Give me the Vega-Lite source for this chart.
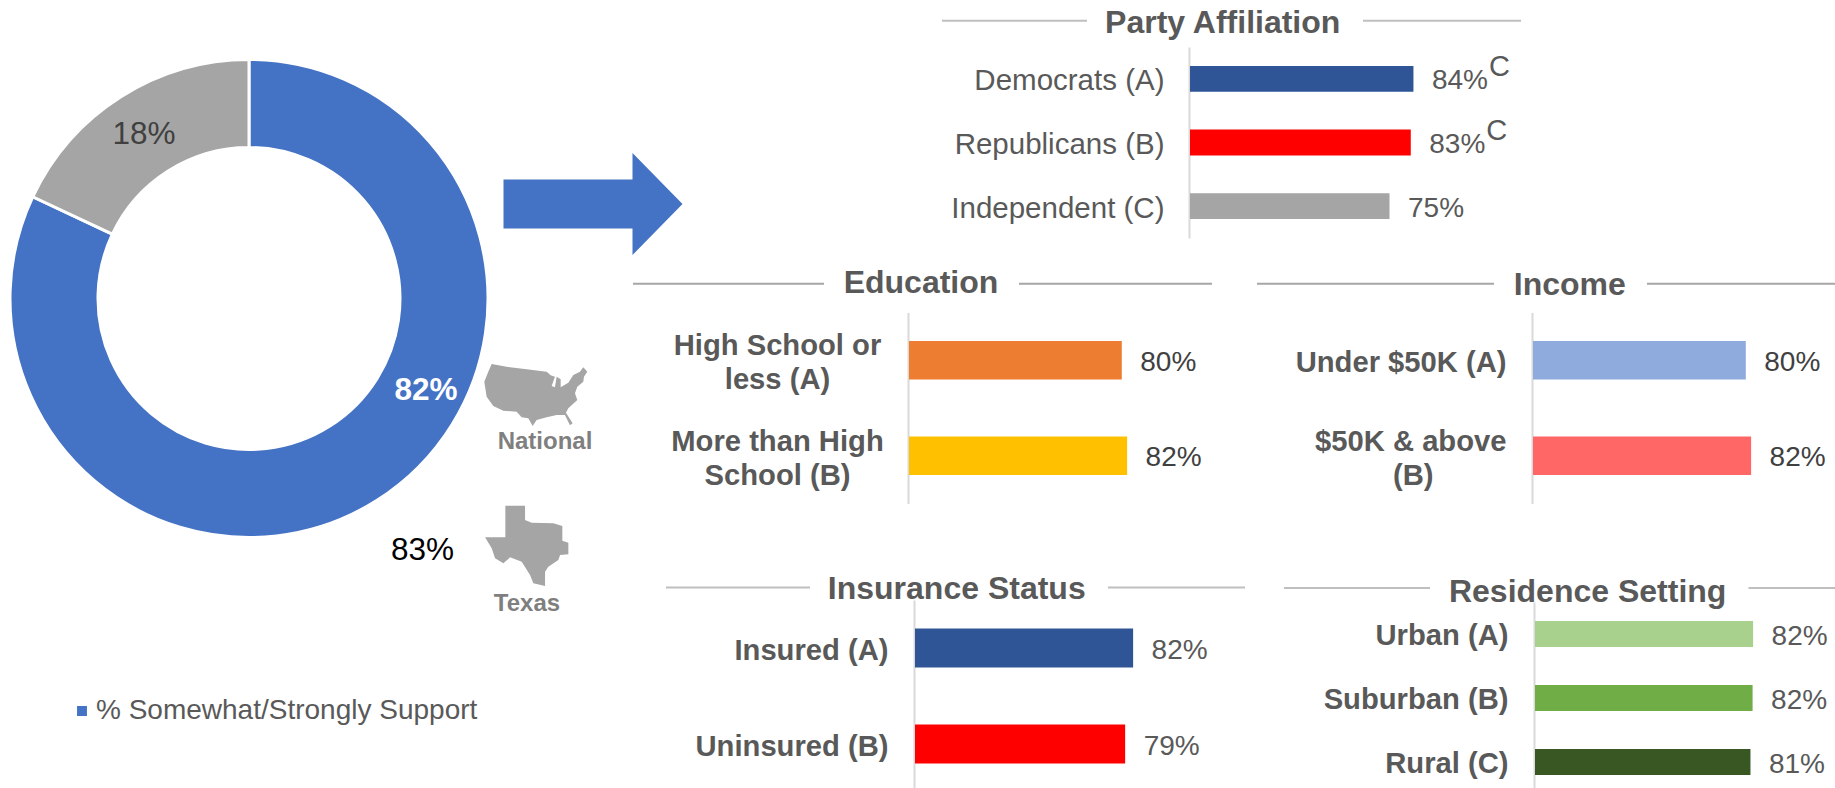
{"$schema":"https://vega.github.io/schema/vega-lite/v6.json","autosize":"none","padding":0,"width":1835,"height":788,"background":"white","config":{"view":{"stroke":null},"font":"Liberation Sans","text":{"font":"Liberation Sans"},"axis":{"grid":false,"ticks":false,"title":null}},
"datasets":{
"party":[{"label":"Democrats (A)","value":0.84,"sig":"C"},{"label":"Republicans (B)","value":0.83,"sig":"C"},{"label":"Independent (C)","value":0.75,"sig":""}],
"education":[{"label":"High School or less (A)","value":0.80},{"label":"More than High School (B)","value":0.82}],
"income":[{"label":"Under $50K (A)","value":0.80},{"label":"$50K & above (B)","value":0.82}],
"insurance":[{"label":"Insured (A)","value":0.82},{"label":"Uninsured (B)","value":0.79}],
"residence":[{"label":"Urban (A)","value":0.82},{"label":"Suburban (B)","value":0.818},{"label":"Rural (C)","value":0.81}],
"support":[{"group":"% Somewhat/Strongly Support","share":0.82,"rank":1},{"group":"Other","share":0.18,"rank":2}]},
"resolve":{"scale":{"x":"independent","y":"independent","color":"independent","theta":"independent"},"axis":{"x":"independent","y":"independent"},"legend":{"color":"independent"}},
"layer":[
{"layer":[
{"data":{"name":"support"},"mark":{"type":"arc","outerRadius":239,"innerRadius":151,"stroke":"white","strokeWidth":3},"encoding":{"x":{"datum":249,"type":"quantitative","scale":{"domain":[0,1835],"range":[0,1835],"nice":false},"axis":null},"y":{"datum":298.5,"type":"quantitative","scale":{"domain":[0,788],"range":[0,788],"nice":false},"axis":null},"theta":{"field":"share","type":"quantitative","stack":true},"order":{"field":"rank"},"color":{"field":"group","type":"nominal","scale":{"domain":["% Somewhat/Strongly Support","Other"],"range":["#4472c4","#a5a5a5"]},"legend":{"values":["% Somewhat/Strongly Support"],"title":null,"orient":"none","legendX":68,"legendY":697,"symbolType":"square","symbolSize":130,"labelOffset":0,"labelFont":"Liberation Sans","labelFontSize":28,"labelColor":"#595959","labelLimit":600}}}},
{"data":{"values":[{"t":"82%"}]},"mark":{"type":"text","fontSize":31.5,"fontWeight":"bold","color":"white"},"encoding":{"x":{"datum":426,"type":"quantitative"},"y":{"datum":391,"type":"quantitative"},"text":{"field":"t"}}},
{"data":{"values":[{"t":"18%"}]},"mark":{"type":"text","fontSize":31.5,"color":"#404040"},"encoding":{"x":{"datum":144,"type":"quantitative"},"y":{"datum":135,"type":"quantitative"},"text":{"field":"t"}}},
{"data":{"values":[{"t":"83%"}]},"mark":{"type":"text","fontSize":31.5,"color":"#000000"},"encoding":{"x":{"datum":422.5,"type":"quantitative"},"y":{"datum":551,"type":"quantitative"},"text":{"field":"t"}}},
{"data":{"values":[{"t":"National"}]},"mark":{"type":"text","fontSize":24,"fontWeight":"bold","color":"#7f7f7f"},"encoding":{"x":{"datum":545,"type":"quantitative"},"y":{"datum":442,"type":"quantitative"},"text":{"field":"t"}}},
{"data":{"values":[{"t":"Texas"}]},"mark":{"type":"text","fontSize":24,"fontWeight":"bold","color":"#7f7f7f"},"encoding":{"x":{"datum":527,"type":"quantitative"},"y":{"datum":604,"type":"quantitative"},"text":{"field":"t"}}},
{"data":{"values":[{"name":"arrow"}]},"mark":{"type":"point","filled":true,"opacity":1,"size":10000,"color":"#4472c4","shape":"M-1.79 -.49L.79 -.49L.79 -1.02L1.79 0L.79 1.02L.79 .49L-1.79 .49Z"},"encoding":{"x":{"datum":593,"type":"quantitative"},"y":{"datum":204,"type":"quantitative"}}},
{"data":{"values":[{"name":"national map"}]},"mark":{"type":"point","filled":true,"opacity":1,"size":10000,"color":"#a5a5a5","shape":"M-.883 -.613L-.583 -.56L-.183 -.507L.217 -.46L.297 -.387L.383 -.36L.317 -.173L.383 -.147L.417 -.36L.497 -.307L.497 -.147L.65 -.24L.75 -.393L.883 -.46L.95 -.547L1.03 -.46L.963 -.36L.95 -.26L.83 -.16L.783 -.027L.83 .107L.65 .273L.603 .36L.737 .573L.683 .613L.583 .407L.417 .407L.217 .453L.017 .507L-.063 .627L-.15 .473L-.283 .453L-.383 .34L-.65 .32L-.85 .227L-.983 .04L-1.03 -.26L-.95 -.46Z"},"encoding":{"x":{"datum":535.8,"type":"quantitative"},"y":{"datum":394.7,"type":"quantitative"}}},
{"data":{"values":[{"name":"texas map"}]},"mark":{"type":"point","filled":true,"opacity":1,"size":10000,"color":"#a5a5a5","shape":"M-.427 -.8L-.033 -.8L-.033 -.513L.1 -.46L.533 -.447L.713 -.393L.713 -.1L.833 -.06L.833 .173L.667 .187L.633 .287L.433 .42L.367 .52L.367 .807L.133 .753L.067 .587L-.1 .32L-.333 .233L-.467 .353L-.633 .253L-.7 .053L-.833 -.167L-.427 -.167Z"},"encoding":{"x":{"datum":526.7,"type":"quantitative"},"y":{"datum":545.7,"type":"quantitative"}}}
]},
{"layer":[
{"data":{"name":"party"},"mark":{"type":"bar","height":{"band":0.405}},"encoding":{"x":{"field":"value","type":"quantitative","scale":{"domain":[0,1],"range":[1190,1456],"nice":false},"axis":null},"y":{"field":"label","type":"nominal","sort":null,"scale":{"domain":["Democrats (A)","Republicans (B)","Independent (C)"],"range":[47,238],"padding":0},"axis":{"orient":"left","offset":-1189,"domainColor":"#d9d9d9","domainWidth":2,"labelColor":"#595959","labelFontSize":29.5,"labelPadding":25,"labelLimit":500,"labelFont":"Liberation Sans","labelOffset":2.5}},"color":{"field":"label","type":"nominal","scale":{"domain":["Democrats (A)","Republicans (B)","Independent (C)"],"range":["#2f5597","#ff0000","#a5a5a5"]},"legend":null}}},
{"data":{"name":"party"},"mark":{"type":"text","align":"left","dx":18.5,"dy":2.5,"fontSize":28,"color":"#595959"},"encoding":{"x":{"field":"value","type":"quantitative"},"y":{"field":"label","type":"nominal","sort":null},"text":{"field":"value","format":".0%"}}},
{"data":{"name":"party"},"mark":{"type":"text","align":"left","dx":75.5,"dy":-12,"fontSize":29,"color":"#595959"},"encoding":{"x":{"field":"value","type":"quantitative"},"y":{"field":"label","type":"nominal","sort":null},"text":{"field":"sig"}}},
{"data":{"values":[{"side":"left"}]},"mark":{"type":"rule","color":"#bfbfbf","strokeWidth":2,"yOffset":-58},"encoding":{"x":{"datum":-0.9323,"type":"quantitative"},"x2":{"datum":-0.3872},"y":{"datum":"Democrats (A)","type":"nominal"}}},
{"data":{"values":[{"side":"right"}]},"mark":{"type":"rule","color":"#bfbfbf","strokeWidth":2,"yOffset":-58},"encoding":{"x":{"datum":0.6504,"type":"quantitative"},"x2":{"datum":1.2444},"y":{"datum":"Democrats (A)","type":"nominal"}}},
{"data":{"values":[{"heading":"Party Affiliation"}]},"mark":{"type":"text","fontSize":32,"fontWeight":"bold","color":"#595959","dy":-55.5},"encoding":{"x":{"datum":0.123,"type":"quantitative"},"y":{"datum":"Democrats (A)","type":"nominal"},"text":{"field":"heading"}}}
]},
{"layer":[
{"data":{"name":"education"},"mark":{"type":"bar","height":{"band":0.405}},"encoding":{"x":{"field":"value","type":"quantitative","scale":{"domain":[0,1],"range":[909,1175],"nice":false},"axis":null},"y":{"field":"label","type":"nominal","sort":null,"scale":{"domain":["High School or less (A)","More than High School (B)"],"range":[312.5,503.5],"padding":0},"axis":{"orient":"left","offset":-908,"domainColor":"#d9d9d9","domainWidth":2,"labelColor":"#595959","labelFontSize":29.2,"labelFontWeight":"bold","labelAlign":"center","labelPadding":131,"labelLimit":500,"labelFont":"Liberation Sans","labelLineHeight":34,"labelOffset":-14,"labelExpr":"datum.label=='High School or less (A)'?['High School or','less (A)']:['More than High','School (B)']"}},"color":{"field":"label","type":"nominal","scale":{"domain":["High School or less (A)","More than High School (B)"],"range":["#ed7d31","#ffc000"]},"legend":null}}},
{"data":{"name":"education"},"mark":{"type":"text","align":"left","dx":18.5,"dy":2.5,"fontSize":28,"color":"#404040"},"encoding":{"x":{"field":"value","type":"quantitative"},"y":{"field":"label","type":"nominal","sort":null},"text":{"field":"value","format":".0%"}}},
{"data":{"values":[{"side":"left"}]},"mark":{"type":"rule","color":"#a6a6a6","strokeWidth":2,"yOffset":-76.5},"encoding":{"x":{"datum":-1.0376,"type":"quantitative"},"x2":{"datum":-0.3195},"y":{"datum":"High School or less (A)","type":"nominal"}}},
{"data":{"values":[{"side":"right"}]},"mark":{"type":"rule","color":"#a6a6a6","strokeWidth":2,"yOffset":-76.5},"encoding":{"x":{"datum":0.4135,"type":"quantitative"},"x2":{"datum":1.139},"y":{"datum":"High School or less (A)","type":"nominal"}}},
{"data":{"values":[{"heading":"Education"}]},"mark":{"type":"text","fontSize":32,"fontWeight":"bold","color":"#595959","dy":-77.5},"encoding":{"x":{"datum":0.045,"type":"quantitative"},"y":{"datum":"High School or less (A)","type":"nominal"},"text":{"field":"heading"}}}
]},
{"layer":[
{"data":{"name":"income"},"mark":{"type":"bar","height":{"band":0.405}},"encoding":{"x":{"field":"value","type":"quantitative","scale":{"domain":[0,1],"range":[1533,1799],"nice":false},"axis":null},"y":{"field":"label","type":"nominal","sort":null,"scale":{"domain":["Under $50K (A)","$50K & above (B)"],"range":[312.5,503.5],"padding":0},"axis":{"orient":"left","offset":-1532,"domainColor":"#d9d9d9","domainWidth":2,"labelColor":"#595959","labelFontSize":29.2,"labelFontWeight":"bold","labelPadding":26,"labelLimit":500,"labelFont":"Liberation Sans","labelLineHeight":34,"labelOffset":{"expr":"datum.value=='$50K & above (B)'?-14:2.5"},"labelExpr":"datum.label=='$50K & above (B)'?['$50K & above','(B)\u00a0\u00a0\u00a0\u00a0\u00a0\u00a0\u00a0\u00a0\u00a0\u200b']:datum.label"}},"color":{"field":"label","type":"nominal","scale":{"domain":["Under $50K (A)","$50K & above (B)"],"range":["#8faadc","#ff6666"]},"legend":null}}},
{"data":{"name":"income"},"mark":{"type":"text","align":"left","dx":18.5,"dy":2.5,"fontSize":28,"color":"#404040"},"encoding":{"x":{"field":"value","type":"quantitative"},"y":{"field":"label","type":"nominal","sort":null},"text":{"field":"value","format":".0%"}}},
{"data":{"values":[{"side":"left"}]},"mark":{"type":"rule","color":"#a6a6a6","strokeWidth":2,"yOffset":-76.5},"encoding":{"x":{"datum":-1.0376,"type":"quantitative"},"x2":{"datum":-0.1466},"y":{"datum":"Under $50K (A)","type":"nominal"}}},
{"data":{"values":[{"side":"right"}]},"mark":{"type":"rule","color":"#a6a6a6","strokeWidth":2,"yOffset":-76.5},"encoding":{"x":{"datum":0.4286,"type":"quantitative"},"x2":{"datum":1.1353},"y":{"datum":"Under $50K (A)","type":"nominal"}}},
{"data":{"values":[{"heading":"Income"}]},"mark":{"type":"text","fontSize":32,"fontWeight":"bold","color":"#595959","dy":-75.5},"encoding":{"x":{"datum":0.1385,"type":"quantitative"},"y":{"datum":"Under $50K (A)","type":"nominal"},"text":{"field":"heading"}}}
]},
{"layer":[
{"data":{"name":"insurance"},"mark":{"type":"bar","height":{"band":0.405}},"encoding":{"x":{"field":"value","type":"quantitative","scale":{"domain":[0,1],"range":[915,1181],"nice":false},"axis":null},"y":{"field":"label","type":"nominal","sort":null,"scale":{"domain":["Insured (A)","Uninsured (B)"],"range":[600,792],"padding":0},"axis":{"orient":"left","offset":-914,"domainColor":"#d9d9d9","domainWidth":2,"labelColor":"#595959","labelFontSize":29.2,"labelFontWeight":"bold","labelPadding":26,"labelLimit":500,"labelFont":"Liberation Sans","labelOffset":2.5}},"color":{"field":"label","type":"nominal","scale":{"domain":["Insured (A)","Uninsured (B)"],"range":["#2f5597","#ff0000"]},"legend":null}}},
{"data":{"name":"insurance"},"mark":{"type":"text","align":"left","dx":18.5,"dy":2.5,"fontSize":28,"color":"#595959"},"encoding":{"x":{"field":"value","type":"quantitative"},"y":{"field":"label","type":"nominal","sort":null},"text":{"field":"value","format":".0%"}}},
{"data":{"values":[{"side":"left"}]},"mark":{"type":"rule","color":"#bfbfbf","strokeWidth":2,"yOffset":-60.5},"encoding":{"x":{"datum":-0.9361,"type":"quantitative"},"x2":{"datum":-0.3947},"y":{"datum":"Insured (A)","type":"nominal"}}},
{"data":{"values":[{"side":"right"}]},"mark":{"type":"rule","color":"#bfbfbf","strokeWidth":2,"yOffset":-60.5},"encoding":{"x":{"datum":0.7256,"type":"quantitative"},"x2":{"datum":1.2406},"y":{"datum":"Insured (A)","type":"nominal"}}},
{"data":{"values":[{"heading":"Insurance Status"}]},"mark":{"type":"text","fontSize":32,"fontWeight":"bold","color":"#595959","dy":-59},"encoding":{"x":{"datum":0.157,"type":"quantitative"},"y":{"datum":"Insured (A)","type":"nominal"},"text":{"field":"heading"}}}
]},
{"layer":[
{"data":{"name":"residence"},"mark":{"type":"bar","height":{"band":0.405}},"encoding":{"x":{"field":"value","type":"quantitative","scale":{"domain":[0,1],"range":[1535,1801],"nice":false},"axis":null},"y":{"field":"label","type":"nominal","sort":null,"scale":{"domain":["Urban (A)","Suburban (B)","Rural (C)"],"range":[602,794],"padding":0},"axis":{"orient":"left","offset":-1534,"domainColor":"#d9d9d9","domainWidth":2,"labelColor":"#595959","labelFontSize":29.2,"labelFontWeight":"bold","labelPadding":26,"labelLimit":500,"labelFont":"Liberation Sans","labelOffset":2}},"color":{"field":"label","type":"nominal","scale":{"domain":["Urban (A)","Suburban (B)","Rural (C)"],"range":["#a9d18e","#70ad47","#385723"]},"legend":null}}},
{"data":{"name":"residence"},"mark":{"type":"text","align":"left","dx":18.5,"dy":2.5,"fontSize":28,"color":"#595959"},"encoding":{"x":{"field":"value","type":"quantitative"},"y":{"field":"label","type":"nominal","sort":null},"text":{"field":"value","format":".0%"}}},
{"data":{"values":[{"side":"left"}]},"mark":{"type":"rule","color":"#bfbfbf","strokeWidth":2,"yOffset":-46},"encoding":{"x":{"datum":-0.9436,"type":"quantitative"},"x2":{"datum":-0.3947},"y":{"datum":"Urban (A)","type":"nominal"}}},
{"data":{"values":[{"side":"right"}]},"mark":{"type":"rule","color":"#bfbfbf","strokeWidth":2,"yOffset":-46},"encoding":{"x":{"datum":0.8026,"type":"quantitative"},"x2":{"datum":1.1278},"y":{"datum":"Urban (A)","type":"nominal"}}},
{"data":{"values":[{"heading":"Residence Setting"}]},"mark":{"type":"text","fontSize":32,"fontWeight":"bold","color":"#595959","dy":-42},"encoding":{"x":{"datum":0.198,"type":"quantitative"},"y":{"datum":"Urban (A)","type":"nominal"},"text":{"field":"heading"}}}
]}
]}
